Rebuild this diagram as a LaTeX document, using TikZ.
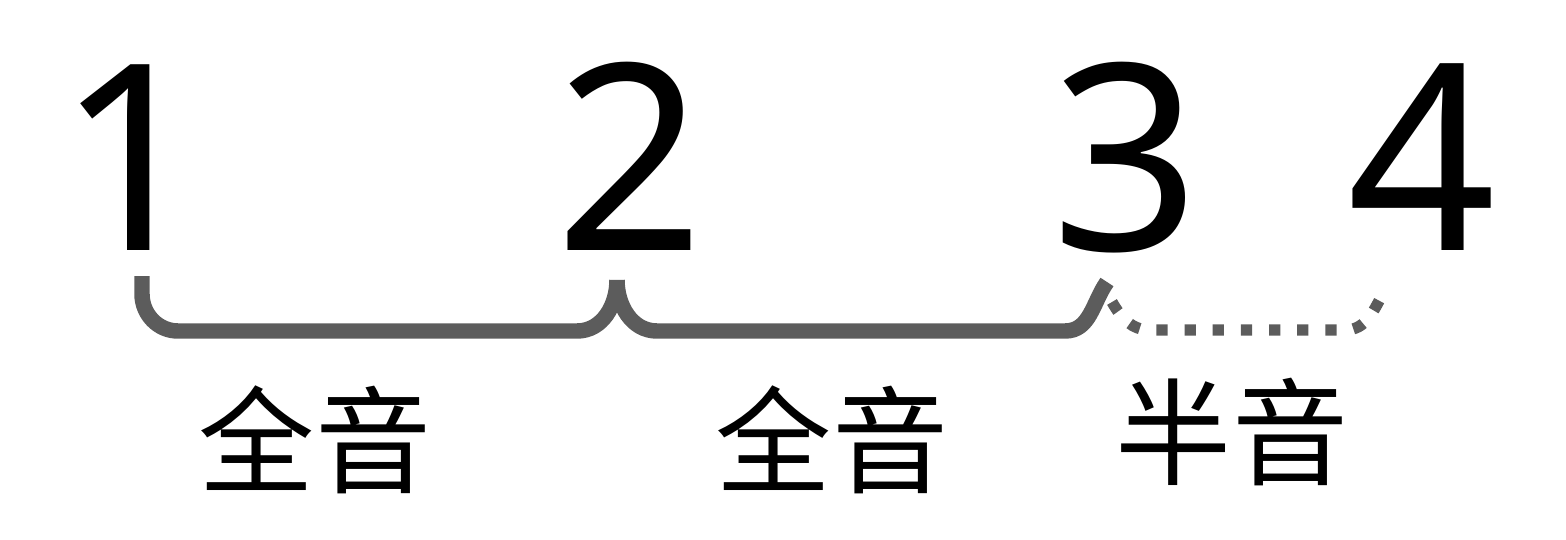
\documentclass[tikz,border=0pt]{standalone}
\usepackage{fontspec}
\setmainfont{Noto Sans CJK SC}
\newfontfamily\numfont{Noto Sans}
\usepackage{tikz}
\definecolor{bracegray}{HTML}{5C5C5C}

\begin{document}
\begin{tikzpicture}[x=0.01cm,y=-0.01cm,
  num/.style={inner sep=0pt,anchor=base,font=\numfont\fontsize{74}{74}\selectfont},
  lbl/.style={inner sep=0pt,font=\fontsize{33}{33}\selectfont},
  brace/.style={draw=bracegray,line width=4.4pt,line join=round},
  halfbrace/.style={draw=bracegray,line width=3.2pt,dash pattern=on 3.2pt off 4.8pt}]
\useasboundingbox (0,0) rectangle (1566,539);
% scale degrees
\node [num] (n1) at (132,250) {1};
\node [num] (n2) at (630,250) {2};
\node [num] (n3) at (1126,250) {3};
\node [num] (n4) at (1422,250) {4};
% brace ends
\coordinate (b1) at (142,276);
\coordinate (b2) at (617,280);
\coordinate (b3) at (1107,282);
\coordinate (d3) at (1112,302);
\coordinate (d4) at (1385,290);
\draw [brace] (b1) -- ++(0,18) to[out=-90,in=180] (178,331) -- (577,331) to[out=0,in=-90] (b2);
\draw [brace] (b2) to[out=-90,in=180] (657,331) -- (1065,331) to[out=0,in=-125] (b3);
\draw [halfbrace] (d3) to[out=-60,in=180] (1150,330) -- (1345,330) to[out=0,in=-120] (d4);
% step names
\node [lbl] (s1) at (315,440) {全音};
\node [lbl] (s2) at (832,440) {全音};
\node [lbl] (s3) at (1232,432) {半音};
\end{tikzpicture}
\end{document}
